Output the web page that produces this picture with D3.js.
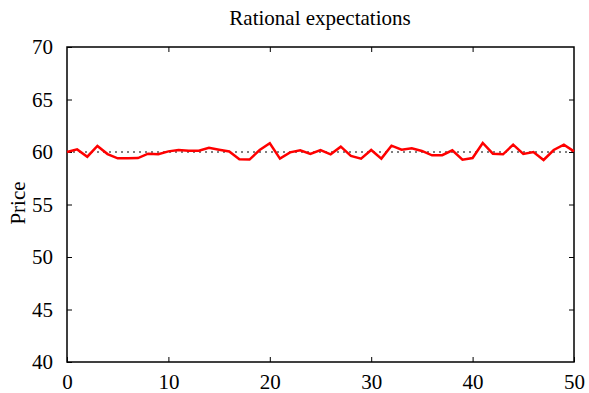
<!DOCTYPE html>
<html>
<head>
<meta charset="utf-8">
<script src="https://cdn.jsdelivr.net/npm/d3@7"></script>
<style>
  body { margin: 0; background: #fff; }
  svg text { font-family: "Liberation Serif", "DejaVu Serif", serif; fill: #000; }
</style>
</head>
<body>
<svg id="chart" width="589" height="393"></svg>
<script>
// price series, t = 0..50
var periods = d3.range(0, 51);
var prices = [60.0, 60.25, 59.55, 60.57, 59.8, 59.4, 59.4, 59.42, 59.84, 59.78,
  60.06, 60.19, 60.12, 60.12, 60.41, 60.22, 60.05, 59.3, 59.28, 60.19,
  60.83, 59.37, 59.97, 60.16, 59.81, 60.19, 59.78, 60.51, 59.62, 59.37,
  60.19, 59.37, 60.6, 60.22, 60.35, 60.1, 59.68, 59.7, 60.16, 59.27,
  59.43, 60.86, 59.84, 59.78, 60.7, 59.81, 60.0, 59.24, 60.19, 60.7, 60.06];
var equilibrium = 60;
var xTicks = [0, 10, 20, 30, 40, 50];
var yTicks = [40, 45, 50, 55, 60, 65, 70];

var svg = d3.select("#chart");
var plotL = 67, plotR = 574, plotT = 47, plotB = 362;

var x = d3.scaleLinear().domain([0, 50]).range([plotL, plotR]);
var y = d3.scaleLinear().domain([40, 70]).range([plotB, plotT]);

// ticks pointing inward, mirrored on top and right (gnuplot style)
var tl = 5;
svg.append("g").attr("transform", "translate(0," + plotB + ")")
  .call(d3.axisBottom(x).tickValues(xTicks).tickSizeInner(-tl).tickSizeOuter(0).tickPadding(12))
  .call(g => g.select(".domain").remove())
  .call(g => g.selectAll("text").style("font-size", "21px"));
svg.append("g").attr("transform", "translate(0," + plotT + ")")
  .call(d3.axisTop(x).tickValues(xTicks.slice(1, -1)).tickSizeInner(-tl).tickSizeOuter(0).tickFormat(""))
  .call(g => g.select(".domain").remove());
svg.append("g").attr("transform", "translate(" + plotL + ",0)")
  .call(d3.axisLeft(y).tickValues(yTicks).tickSizeInner(-tl).tickSizeOuter(0).tickPadding(14))
  .call(g => g.select(".domain").remove())
  .call(g => g.selectAll("text").style("font-size", "21px"));
svg.append("g").attr("transform", "translate(" + plotR + ",0)")
  .call(d3.axisRight(y).tickValues(yTicks.slice(1, -1)).tickSizeInner(-tl).tickSizeOuter(0).tickFormat(""))
  .call(g => g.select(".domain").remove());

svg.selectAll(".tick line").attr("stroke", "#000").attr("stroke-width", 1);

// frame
svg.append("rect")
  .attr("x", plotL).attr("y", plotT)
  .attr("width", plotR - plotL).attr("height", plotB - plotT)
  .attr("fill", "none").attr("stroke", "#000").attr("stroke-width", 1.5);

// equilibrium price
svg.append("line")
  .attr("x1", x(0)).attr("x2", x(50))
  .attr("y1", y(equilibrium)).attr("y2", y(equilibrium))
  .attr("stroke", "#000").attr("stroke-width", 1)
  .attr("stroke-dasharray", "2,4");

var line = d3.line()
  .x((d, i) => x(periods[i]))
  .y(d => y(d));

svg.append("path")
  .datum(prices)
  .attr("d", line)
  .attr("fill", "none")
  .attr("stroke", "#ff0000")
  .attr("stroke-width", 2.5)
  .attr("stroke-linejoin", "miter");

svg.append("text")
  .attr("x", 320).attr("y", 25)
  .attr("text-anchor", "middle")
  .style("font-size", "21px")
  .text("Rational expectations");

svg.append("text")
  .attr("transform", "translate(25,203) rotate(-90)")
  .attr("text-anchor", "middle")
  .style("font-size", "21px")
  .text("Price");
</script>
</body>
</html>
